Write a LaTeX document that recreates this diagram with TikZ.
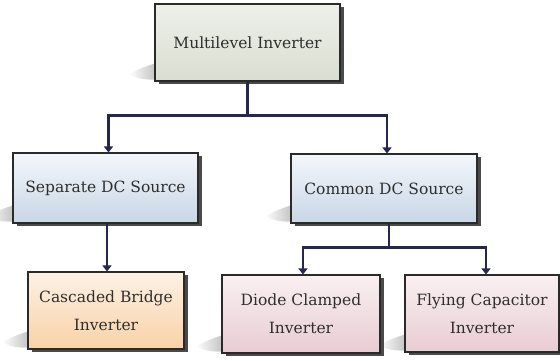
\documentclass[tikz,border=0pt]{standalone}
\usepackage{fontspec}
\setmainfont{DejaVu Serif}
\usetikzlibrary{shadows,arrows.meta,backgrounds}
\definecolor{boxline}{HTML}{2A2A2A}
\definecolor{shadowc}{HTML}{4A4A4A}
\definecolor{linec}{HTML}{26264F}
\definecolor{txt}{HTML}{2E2E2E}
\definecolor{greyT}{HTML}{EEF0EA}
\definecolor{greyB}{HTML}{D8DED0}
\definecolor{blueT}{HTML}{F4F7FB}
\definecolor{blueB}{HTML}{C8D6E6}
\definecolor{peachT}{HTML}{FDF1E3}
\definecolor{peachB}{HTML}{F8D2A8}
\definecolor{pinkT}{HTML}{F9F0F2}
\definecolor{pinkB}{HTML}{E8CCD3}
\begin{document}
\begin{tikzpicture}[x=1pt,y=-1pt,
  box/.style={draw=boxline, line width=1.1pt, inner sep=0pt, align=center,
    text=txt, font=\fontsize{15.5}{28}\selectfont,
    drop shadow={shadow xshift=4pt, shadow yshift=-3pt, fill=shadowc, opacity=1}},
  greybox/.style={box, top color=greyT, bottom color=greyB},
  bluebox/.style={box, top color=blueT, bottom color=blueB},
  peachbox/.style={box, top color=peachT, bottom color=peachB},
  pinkbox/.style={box, top color=pinkT, bottom color=pinkB},
  conn/.style={draw=linec, line width=2.6pt},
  arr/.style={conn, -{Triangle[length=6pt,width=9pt]}}]
\useasboundingbox (0,0) rectangle (560,361);
\node[greybox, minimum width=185pt, minimum height=77pt] (mi) at (247.5,42.5) {Multilevel Inverter};
\node[bluebox, minimum width=185pt, minimum height=70pt] (sep) at (105.5,188) {Separate DC Source};
\node[bluebox, minimum width=186pt, minimum height=69pt] (com) at (384,188.5) {Common DC Source};
\node[peachbox, minimum width=156pt, minimum height=77pt] (cas) at (106,310.5) {Cascaded Bridge\\Inverter};
\node[pinkbox, minimum width=158pt, minimum height=78pt] (dio) at (301,314) {Diode Clamped\\Inverter};
\node[pinkbox, minimum width=154pt, minimum height=77pt] (fly) at (482,313.5) {Flying Capacitor\\Inverter};
\begin{scope}[on background layer]
\foreach \n in {mi,sep,com,cas,dio,fly}{
  \shade[left color=white, right color=gray!45]
    ([xshift=-26pt,yshift=7pt]\n.south west) .. controls ([xshift=-12pt,yshift=14pt]\n.south west) .. ([yshift=18pt]\n.south west)
    -- ([yshift=2pt]\n.south west) .. controls ([xshift=-12pt,yshift=2pt]\n.south west) .. ([xshift=-26pt,yshift=7pt]\n.south west) -- cycle;
}
\end{scope}
\draw[arr] (mi.south) -- ++(0,34) -| ([xshift=3pt]sep.north);
\draw[arr] (mi.south) -- ++(0,34) -| ([xshift=3pt]com.north);
\draw[arr] ([xshift=1.5pt]sep.south) -- ([xshift=1pt]cas.north);
\draw[arr] ([xshift=5pt]com.south) -- ++(0,24) -| ([xshift=2pt]dio.north);
\draw[arr] ([xshift=5pt]com.south) -- ++(0,24) -| ([xshift=4pt]fly.north);
\end{tikzpicture}
\end{document}
